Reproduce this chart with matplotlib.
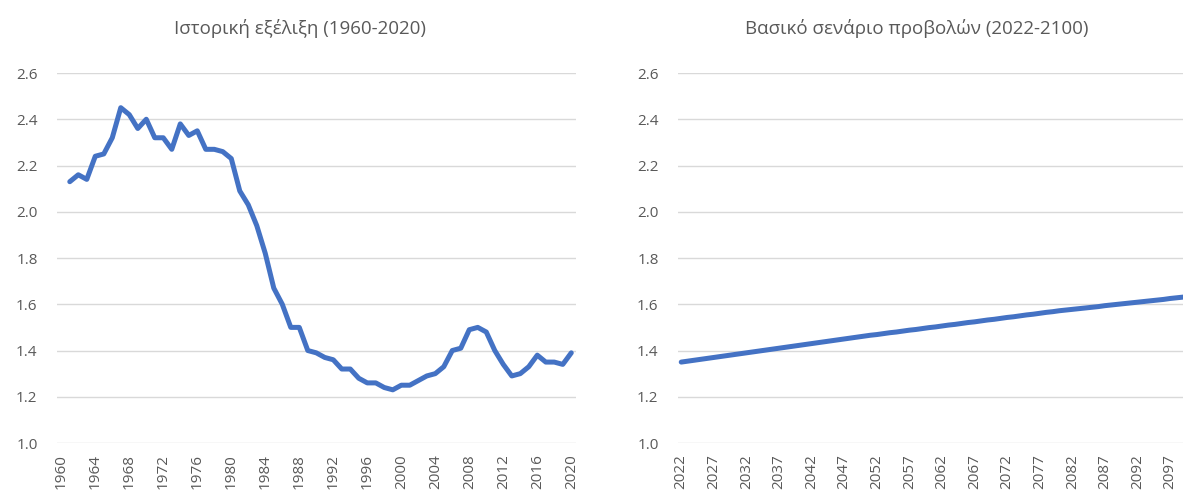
import numpy as np
import matplotlib.pyplot as plt

plt.rcParams['font.family'] = ['Open Sans', 'DejaVu Sans']

# historical data (1960 has no value in the chart)
hist_years = list(range(1960, 2021))
hist_vals = [np.nan, 2.13, 2.16, 2.14, 2.24, 2.25, 2.32, 2.45, 2.42, 2.36,
             2.40, 2.32, 2.32, 2.27, 2.38, 2.33, 2.35, 2.27, 2.27, 2.26,
             2.23, 2.09, 2.03, 1.94, 1.82, 1.67, 1.60, 1.50, 1.50, 1.40,
             1.39, 1.37, 1.36, 1.32, 1.32, 1.28, 1.26, 1.26, 1.24, 1.23,
             1.25, 1.25, 1.27, 1.29, 1.30, 1.33, 1.40, 1.41, 1.49, 1.50,
             1.48, 1.40, 1.34, 1.29, 1.30, 1.33, 1.38, 1.35, 1.35, 1.34,
             1.39]

# baseline projection
proj_years = list(range(2022, 2101))
proj_vals = [1.350, 1.354, 1.358, 1.362, 1.366, 1.370, 1.374, 1.378, 1.382, 1.386,
             1.390, 1.394, 1.398, 1.402, 1.406, 1.410, 1.414, 1.418, 1.422, 1.426,
             1.430, 1.434, 1.438, 1.442, 1.446, 1.450, 1.454, 1.458, 1.462, 1.466,
             1.469, 1.473, 1.477, 1.480, 1.484, 1.488, 1.491, 1.495, 1.499, 1.502,
             1.506, 1.510, 1.513, 1.517, 1.521, 1.524, 1.528, 1.532, 1.535, 1.539,
             1.543, 1.546, 1.550, 1.554, 1.557, 1.561, 1.565, 1.568, 1.572, 1.575,
             1.578, 1.581, 1.584, 1.587, 1.590, 1.594, 1.597, 1.600, 1.603, 1.606,
             1.609, 1.612, 1.615, 1.618, 1.621, 1.625, 1.628, 1.631, 1.634]

hist_ticks = list(range(1960, 2021, 4))
proj_ticks = list(range(2022, 2098, 5))
y_ticks = [1.0, 1.2, 1.4, 1.6, 1.8, 2.0, 2.2, 2.4, 2.6]

titles = ['Ιστορική εξέλιξη (1960-2020)', 'Βασικό σενάριο προβολών (2022-2100)']

line_col = '#4472C4'
grid_col = '#D9D9D9'
text_col = '#595959'

fig = plt.figure(figsize=(11.83, 4.98), dpi=100)
ax1 = fig.add_axes([0.0482, 0.1104, 0.4383, 0.743])
ax2 = fig.add_axes([0.5731, 0.1104, 0.4353, 0.743])

ax1.plot(hist_years, hist_vals, color=line_col, lw=3.6, solid_capstyle='round', solid_joinstyle='round')
ax1.set_xlim(1959.5, 2020.5)
ax1.set_xticks(hist_ticks)

ax2.plot(proj_years, proj_vals, color=line_col, lw=3.6, solid_capstyle='round', solid_joinstyle='round')
ax2.set_xlim(2021.5, 2100.5)
ax2.set_xticks(proj_ticks)

for ax in (ax1, ax2):
    ax.set_ylim(1.0, 2.6)
    ax.set_yticks(y_ticks)
    ax.set_yticklabels([f'{v:.1f}' for v in y_ticks])
    ax.grid(axis='y', color=grid_col, lw=1.0)
    ax.set_axisbelow(True)
    for s in ax.spines.values():
        s.set_visible(False)
    ax.tick_params(axis='both', length=0, labelsize=11, colors=text_col)
    ax.tick_params(axis='y', pad=14)
    ax.tick_params(axis='x', pad=8, labelrotation=90)

fig.text(300 / 1183, 1 - 28 / 498, titles[0], ha='center', va='center', fontsize=13.5, color=text_col)
fig.text(917 / 1183, 1 - 28 / 498, titles[1], ha='center', va='center', fontsize=13.5, color=text_col)

fig.savefig('out.png', dpi=100)
